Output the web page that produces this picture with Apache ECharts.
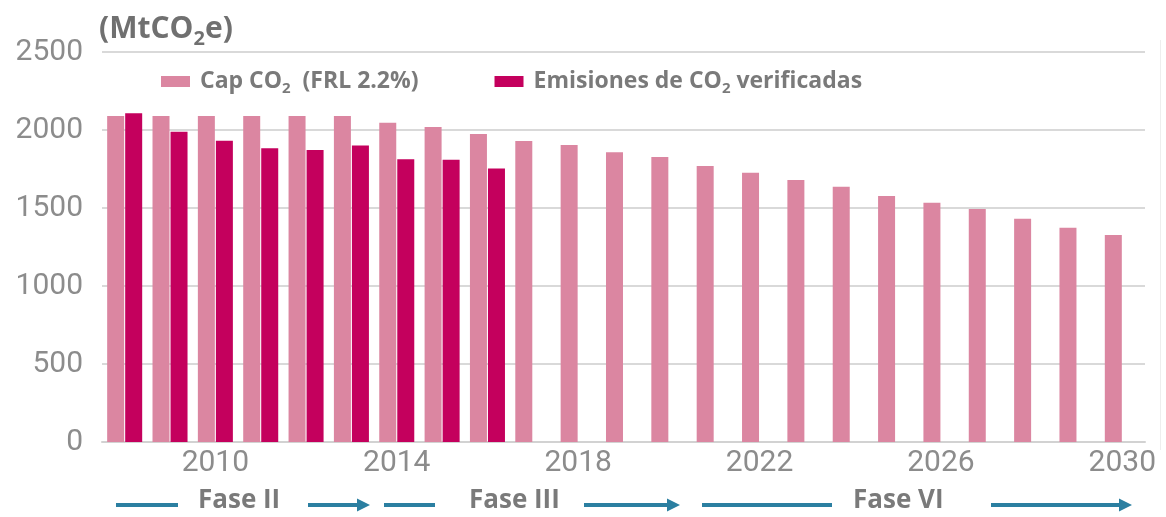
<!DOCTYPE html>
<html>
<head>
<meta charset="utf-8">
<script src="https://cdn.jsdelivr.net/npm/echarts@6/dist/echarts.min.js"></script>
<style>
html,body{margin:0;padding:0;background:#fff;}
#chart{width:1166px;height:517px;}
</style>
</head>
<body>
<div id="chart"></div>
<script>
const years = ['2008','2009','2010','2011','2012','2013','2014','2015','2016','2017','2018','2019','2020','2021','2022','2023','2024','2025','2026','2027','2028','2029','2030'];
const capValues = [2090,2090,2090,2090,2090,2090,2047,2020,1974,1929,1904,1857,1827,1769,1726,1679,1637,1577,1534,1494,1431,1374,1327];
const emissionValues = [2107,1989,1931,1883,1872,1900,1812,1810,1754,null,null,null,null,null,null,null,null,null,null,null,null,null,null];
const xTickLabels = ['2010','2014','2018','2022','2026','2030'];
const yTicks = [0,500,1000,1500,2000,2500];
const seriesNames = ['Cap CO2 (FRL 2.2%)','Emisiones de CO2 verificadas'];
const phases = [
  {label:'Fase II', x:198},
  {label:'Fase III', x:469},
  {label:'Fase VI', x:853}
];

const PINK = '#db86a1';
const MAGENTA = '#c4005d';
const ARROW = '#2b7fa1';
const TXT = '#7a7a7a';

const chart = echarts.init(document.getElementById('chart'));

function hLine(x1, x2, y) {
  return {type:'line', shape:{x1:x1, y1:y, x2:x2, y2:y}, style:{stroke:ARROW, lineWidth:4}, silent:true};
}
function arrow(x1, x2, y) {
  return [
    {type:'line', shape:{x1:x1, y1:y, x2:x2-10, y2:y}, style:{stroke:ARROW, lineWidth:4}, silent:true},
    {type:'polygon', shape:{points:[[x2-13,y-6.5],[x2,y],[x2-13,y+6.5]]}, style:{fill:ARROW}, silent:true}
  ];
}

const graphics = [];
graphics.push(hLine(116,178,505));
graphics.push(...arrow(308,370,505));
graphics.push(hLine(384,435,505));
graphics.push(...arrow(584,680,505));
graphics.push(hLine(702,832,505));
graphics.push(...arrow(991,1132,505));
phases.forEach(p => {
  graphics.push({type:'text', left:p.x, top:488, silent:true,
    style:{text:p.label, fill:TXT, font:'bold 26px "Open Sans"'}});
});
graphics.push({type:'line', shape:{x1:1160.5,y1:40,x2:1160.5,y2:450}, style:{stroke:'#eeeeee', lineWidth:1}, silent:true});

const legendRich = {
  a:{fontFamily:'Open Sans', fontWeight:'bold', fontSize:23, color:TXT, lineHeight:30},
  p:{fontFamily:'Open Sans', fontWeight:'bold', fontSize:23, color:TXT, lineHeight:30, padding:[0,0,0,5]},
  s:{fontFamily:'Open Sans', fontWeight:'bold', fontSize:15, color:TXT, lineHeight:30, verticalAlign:'bottom'}
};

chart.setOption({
  animation:false,
  backgroundColor:'#ffffff',
  title:{
    text:'{a|(MtCO}{s|2}{a|e)}',
    left:94, top:4,
    textStyle:{
      rich:{
        a:{fontFamily:'Open Sans', fontWeight:'bold', fontSize:30, color:'#707070', lineHeight:40},
        s:{fontFamily:'Open Sans', fontWeight:'bold', fontSize:20, color:'#707070', lineHeight:40, verticalAlign:'bottom'}
      }
    }
  },
  legend:{
    left:156, top:65,
    itemWidth:29, itemHeight:11,
    itemGap:76,
    icon:'rect',
    data:seriesNames,
    formatter:function(name){
      if (name === seriesNames[0]) return '{p|Cap CO}{s|2}{a|  (FRL 2.2%)}';
      return '{p|Emisiones de CO}{s|2}{a| verificadas}';
    },
    textStyle:{rich:legendRich}
  },
  grid:{left:102, right:21, top:52, bottom:75, containLabel:false},
  xAxis:{
    type:'category',
    data:years,
    axisTick:{show:false},
    axisLine:{show:true, lineStyle:{color:'#d2d2d2', width:2}},
    axisLabel:{
      interval:0,
      margin:6,
      fontFamily:'Roboto',
      fontSize:30,
      color:'#8c8c8c',
      formatter:function(v){ return xTickLabels.indexOf(v) >= 0 ? v : ''; }
    }
  },
  yAxis:{
    type:'value',
    min:yTicks[0], max:yTicks[yTicks.length-1], interval:500,
    axisLine:{show:false},
    axisTick:{show:false},
    splitLine:{lineStyle:{color:'#d9d9d9', width:2}},
    axisLabel:{margin:19, fontFamily:'Roboto', fontSize:30, color:'#8c8c8c',
      formatter:function(v){ return String(v); }}
  },
  series:[
    {name:seriesNames[0], type:'bar', data:capValues, barWidth:17, barGap:'6%', itemStyle:{color:PINK}},
    {name:seriesNames[1], type:'bar', data:emissionValues, barWidth:17, barGap:'6%', itemStyle:{color:MAGENTA}}
  ],
  graphic:graphics
});
</script>
</body>
</html>
